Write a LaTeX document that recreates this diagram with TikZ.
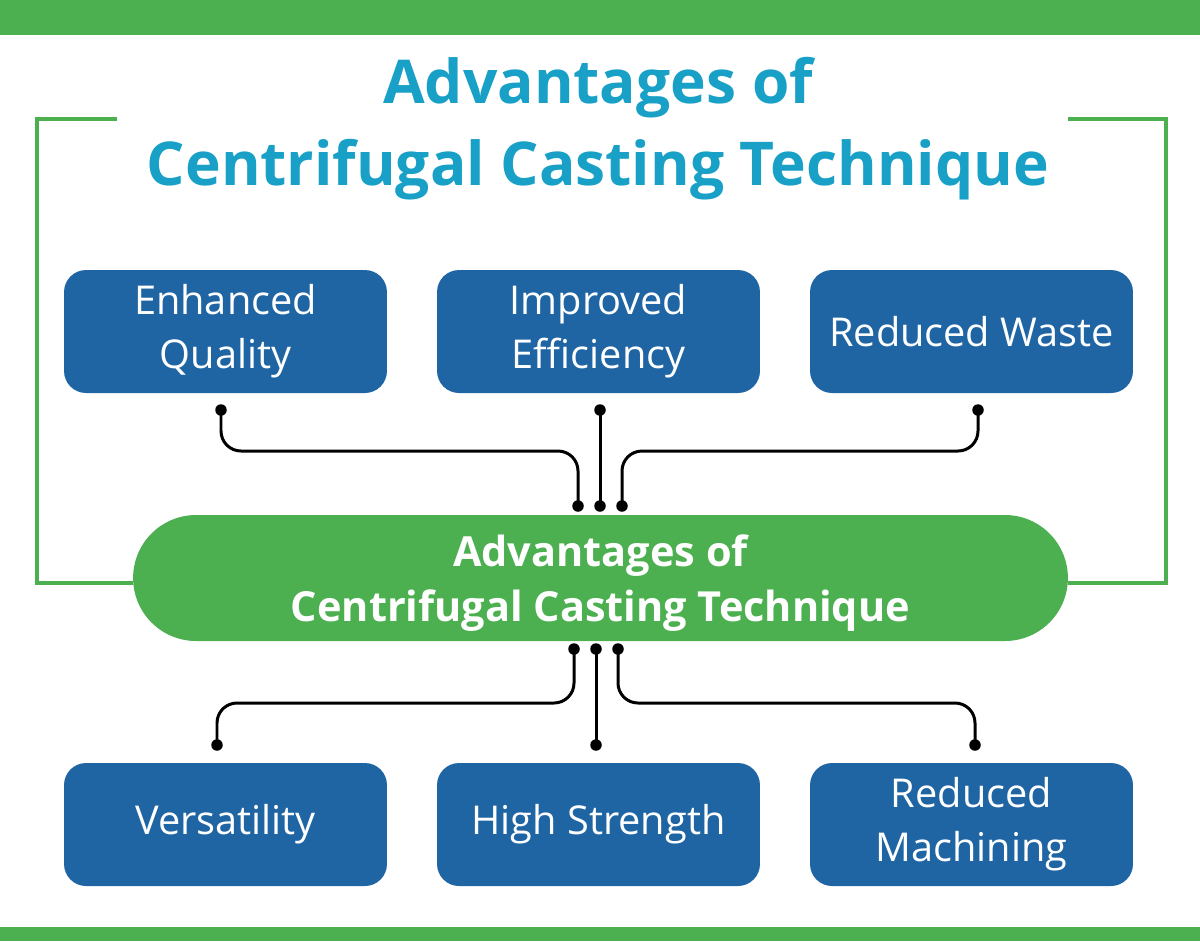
\documentclass[tikz,border=0pt]{standalone}
\usepackage{fontspec}
\setmainfont{Open Sans}
\usetikzlibrary{calc,backgrounds}
\definecolor{barG}{RGB}{76,175,80}
\definecolor{boxB}{RGB}{31,100,163}
\definecolor{titleC}{RGB}{24,160,198}
\tikzset{
  bluebox/.style={draw=none, fill=boxB, rounded corners=0.44cm, minimum width=6.46cm, minimum height=2.46cm, text=white, align=center, font=\fontsize{22.6}{30.8}\selectfont, inner sep=0pt},
  pill/.style={draw=none, fill=barG, rounded corners=1.26cm, minimum width=18.7cm, minimum height=2.52cm, text=white, align=center, font=\fontsize{23.6}{31.3}\selectfont\bfseries, inner sep=0pt},
  conn/.style={line width=1.7pt, black, rounded corners=0.4cm},
  dotc/.style={circle, fill=black, inner sep=0pt, minimum size=0.23cm},
  frame/.style={line width=2pt, barG},
}
\begin{document}
\begin{tikzpicture}[x=0.02cm, y=-0.02cm]
\useasboundingbox (0,0) rectangle (1200,941);
\fill[barG] (0,0) rectangle (1200,35);
\fill[barG] (0,927) rectangle (1200,941);
% title
\node[text=titleC, font=\fontsize{34.4}{46.7}\selectfont\bfseries, align=center] (title) at (598,129) {Advantages of\\Centrifugal Casting Technique};
% central pill
\node[pill, text depth=-0.06cm] (center) at (600.5,578) {Advantages of\\Centrifugal Casting Technique};
% frame
\coordinate (fl1) at (117,119);
\coordinate (fl2) at (37,119);
\coordinate (fl3) at (37,583);
\coordinate (fr1) at (1068,119);
\coordinate (fr2) at (1166,119);
\coordinate (fr3) at (1166,583);
\begin{scope}[on background layer]
\draw[frame] (fl1) -- (fl2) -- (fl3) -- (center.west |- fl3);
\draw[frame] (fr1) -- (fr2) -- (fr3) -- (center.east |- fr3);
\end{scope}
% boxes
\node[bluebox] (eq) at (225.5,331.5) {Enhanced\\Quality};
\node[bluebox] (ie) at (598.5,331.5) {Improved\\Efficiency};
\node[bluebox] (rw) at (971.5,331.5) {Reduced Waste};
\node[bluebox] (vs) at (225.5,824.5) {Versatility};
\node[bluebox] (hs) at (598.5,824.5) {High Strength};
\node[bluebox] (rm) at (971.5,824.5) {Reduced\\Machining};
% connector end points
\coordinate (t1) at (221,410);
\coordinate (t2) at (600,410);
\coordinate (t3) at (978,410);
\coordinate (c1) at (578,506);
\coordinate (c2) at (600,506);
\coordinate (c3) at (622,506);
\coordinate (ht) at (0,451);
\coordinate (d1) at (574,649);
\coordinate (d2) at (596,649);
\coordinate (d3) at (618,649);
\coordinate (b1) at (217,745);
\coordinate (b2) at (596,745);
\coordinate (b3) at (975,745);
\coordinate (hb) at (0,703);
\draw[conn] (t1) -- (t1 |- ht) -- (c1 |- ht) -- (c1);
\draw[conn] (t2) -- (c2);
\draw[conn] (t3) -- (t3 |- ht) -- (c3 |- ht) -- (c3);
\draw[conn] (d1) -- (d1 |- hb) -- (b1 |- hb) -- (b1);
\draw[conn] (d2) -- (b2);
\draw[conn] (d3) -- (d3 |- hb) -- (b3 |- hb) -- (b3);
\foreach \p in {t1,t2,t3,c1,c2,c3,d1,d2,d3,b1,b2,b3}
  \node[dotc] at (\p) {};
\end{tikzpicture}
\end{document}
